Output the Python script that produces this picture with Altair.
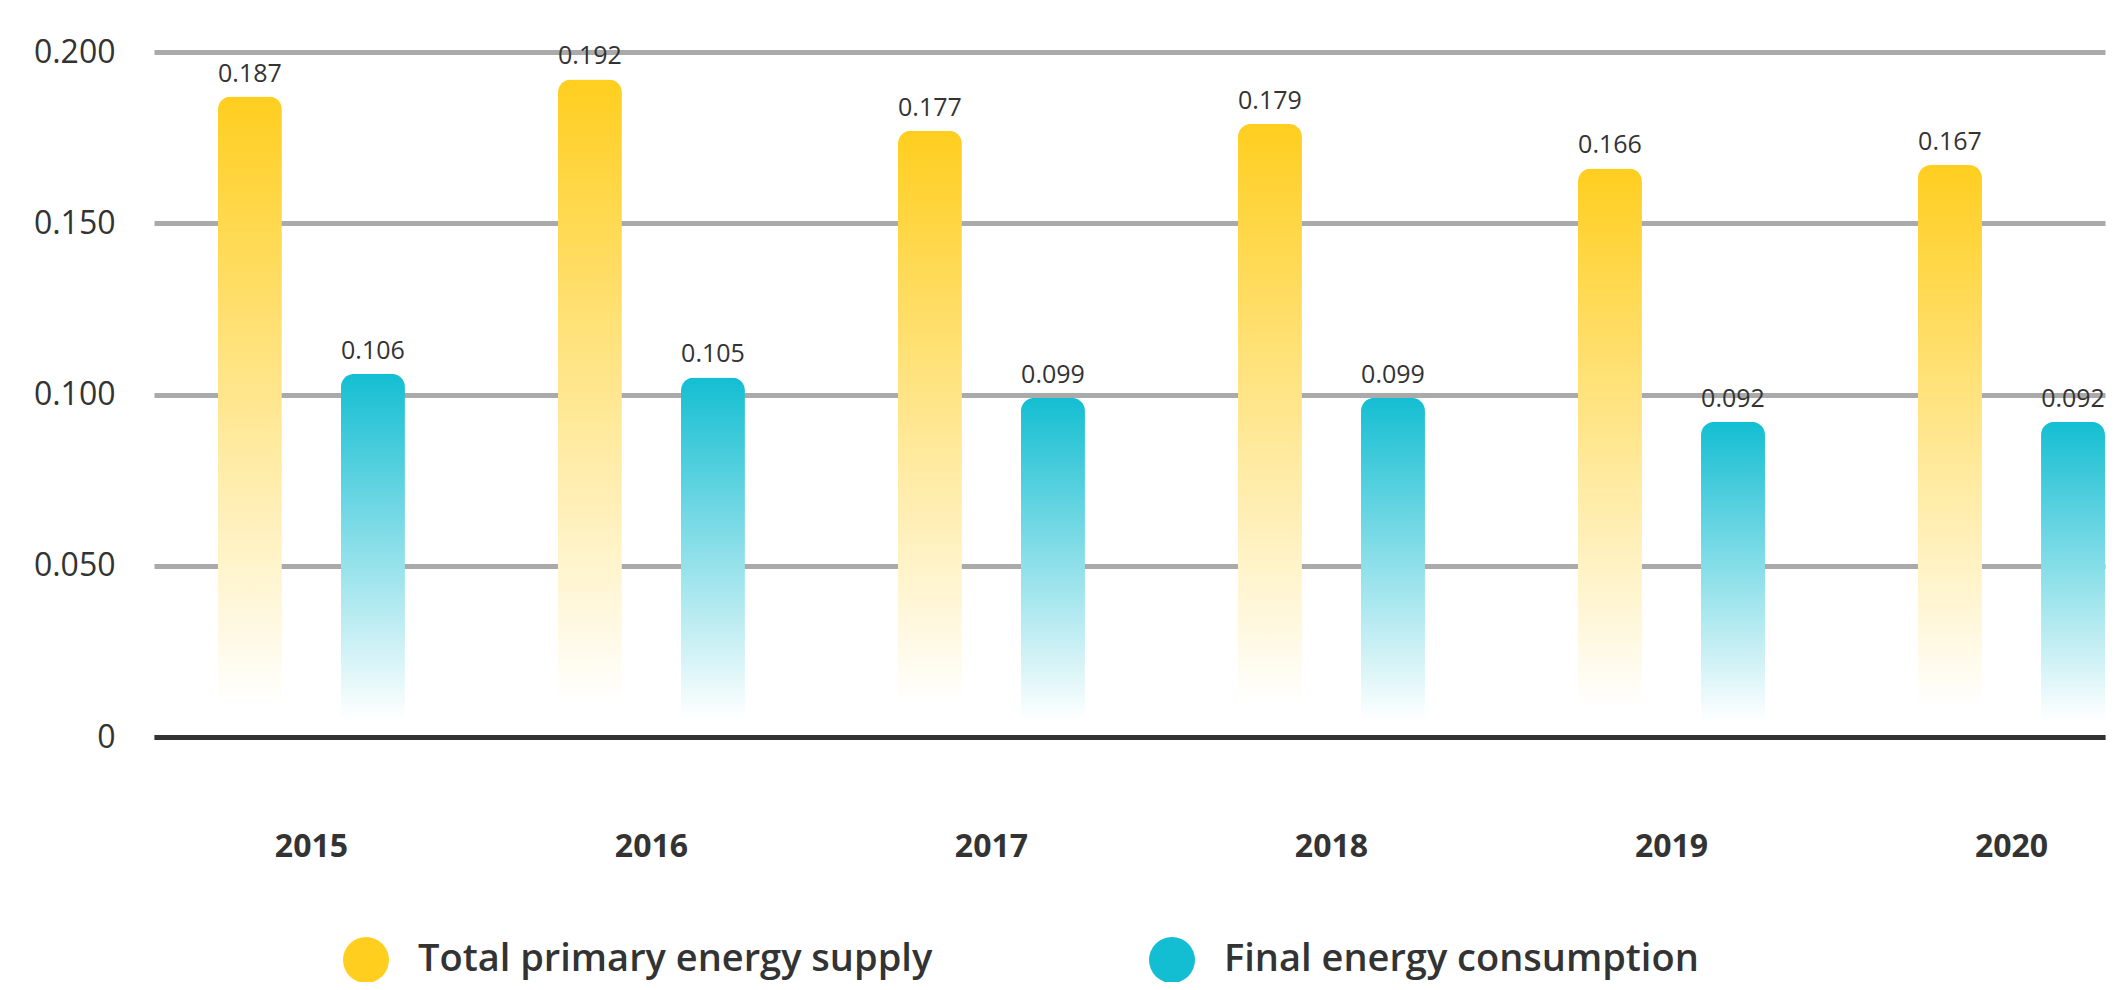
import altair as alt
import pandas as pd

years = ["2015", "2016", "2017", "2018", "2019", "2020"]
series_names = ["Total primary energy supply", "Final energy consumption"]
tpes = [0.187, 0.192, 0.177, 0.179, 0.166, 0.167]
fec = [0.106, 0.105, 0.099, 0.099, 0.092, 0.092]
y_ticks = [0, 0.05, 0.1, 0.15, 0.2]

YELLOW = "#FFCE1F"
CYAN = "#14BED2"
FONT = "Open Sans"

rows = []
for y, a, b in zip(years, tpes, fec):
    rows.append({"year": y, "series": series_names[0], "value": a})
    rows.append({"year": y, "series": series_names[1], "value": b})
df = pd.DataFrame(rows)

x_enc = alt.X(
    "year:N",
    sort=years,
    scale=alt.Scale(paddingInner=0.45, paddingOuter=0.094, align=1),
    axis=alt.Axis(
        title=None, labelAngle=0, labelFontSize=32, labelFontWeight="bold",
        labelFont=FONT, labelColor="#333333", domainColor="#333333",
        domainWidth=5, ticks=False, labelPadding=94, grid=False, zindex=1,
    ),
)
xoff_enc = alt.XOffset(
    "series:N",
    scale=alt.Scale(domain=series_names, paddingInner=0.48, paddingOuter=0),
)
y_enc = alt.Y(
    "value:Q",
    scale=alt.Scale(domain=[0, 0.2], nice=False),
    axis=alt.Axis(
        title=None, values=y_ticks,
        labelExpr="datum.value == 0 ? '0' : format(datum.value, '.3f')",
        labelFontSize=32, labelFont=FONT, labelColor="#333333",
        domain=False, ticks=False, labelPadding=39,
        gridColor="#aaaaaa", gridWidth=5,
    ),
)

base = alt.Chart(df)


def grad(c):
    return alt.Gradient(
        gradient="linear", x1=0, y1=0, x2=0, y2=1,
        stops=[alt.GradientStop(color=c, offset=0),
               alt.GradientStop(color="#FFFFFF", offset=0.95),
               alt.GradientStop(color="#FFFFFF", offset=1)],
    )


bars_a = base.transform_filter(alt.datum.series == series_names[0]).mark_bar(
    fill=grad(YELLOW), cornerRadiusTopLeft=13, cornerRadiusTopRight=13
).encode(x=x_enc, xOffset=xoff_enc, y=y_enc)

bars_b = base.transform_filter(alt.datum.series == series_names[1]).mark_bar(
    fill=grad(CYAN), cornerRadiusTopLeft=13, cornerRadiusTopRight=13
).encode(x=x_enc, xOffset=xoff_enc, y=y_enc)

labels = base.mark_text(
    font=FONT, fontSize=25, color="#333333", baseline="alphabetic", dy=-15
).encode(x=x_enc, xOffset=xoff_enc, y=y_enc, text=alt.Text("value:Q", format=".3f"))

legend_layer = base.mark_point(filled=True, opacity=0, size=0).encode(
    x=x_enc, xOffset=xoff_enc, y=y_enc,
    color=alt.Color(
        "series:N",
        scale=alt.Scale(domain=series_names, range=[YELLOW, CYAN]),
        legend=alt.Legend(
            orient="none", legendX=189, legendY=885, direction="horizontal",
            title=None, symbolType="circle", symbolSize=2116, symbolOpacity=1,
            symbolStrokeWidth=0, labelFontSize=38, labelFont=FONT,
            labelFontWeight=600, labelColor="#333333", labelOffset=29,
            columnPadding=216, padding=0, labelLimit=1000,
        ),
    ),
)

chart = alt.layer(bars_a, bars_b, labels, legend_layer).properties(
    width=1951, height=685,
    autosize=alt.AutoSizeParams(type="none"),
    padding={"left": 146, "top": 44, "right": 4, "bottom": 245},
).configure_view(stroke=None)

chart.save("out.html", embed_options={"renderer": "svg", "actions": False})
